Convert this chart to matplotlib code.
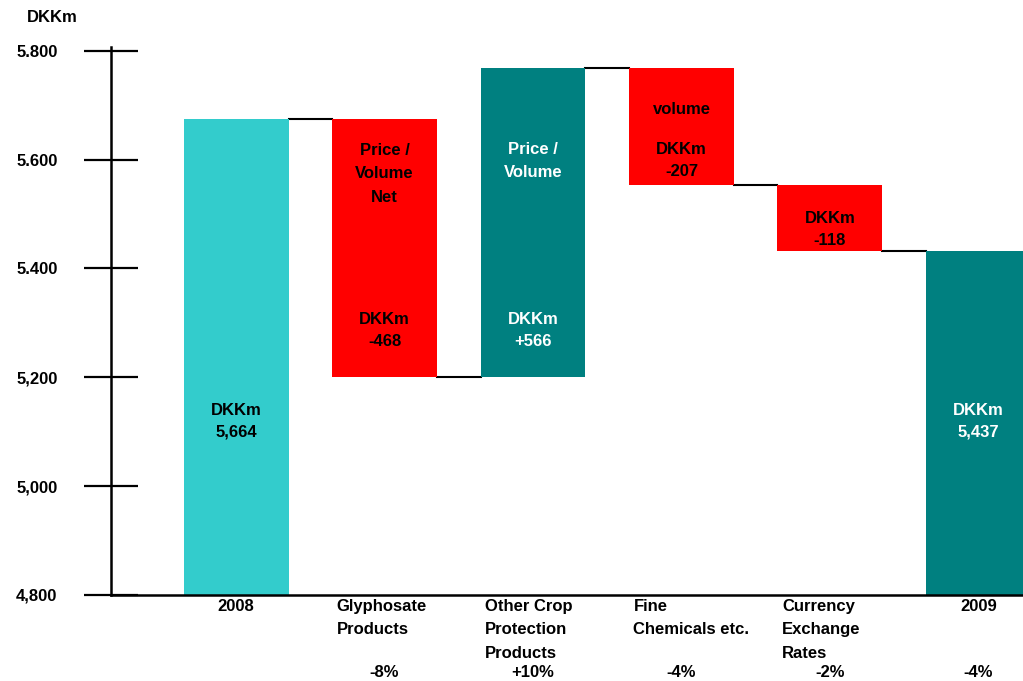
import numpy as np
import matplotlib.pyplot as plt

plt.rcParams['font.family'] = ['Liberation Sans', 'DejaVu Sans']
plt.rcParams['font.weight'] = 'bold'

categories = ['2008', 'Glyphosate\nProducts', 'Other Crop\nProtection\nProducts',
              'Fine\nChemicals etc.', 'Currency\nExchange\nRates', '2009']
pct_labels = ['', '-8%', '+10%', '-4%', '-2%', '-4%']
start_value = 5675
deltas = [-474, 568, -215, -122]
end_value = 5432
value_labels = ['DKKm\n5,664', 'DKKm\n-468', 'DKKm\n+566', 'DKKm\n-207', 'DKKm\n-118', 'DKKm\n5,437']
top_labels = ['', 'Price /\nVolume\nNet', 'Price /\nVolume', 'volume', '', '']
yticks = [4800, 5000, 5200, 5400, 5600, 5800]
ytick_labels = ['4,800', '5,000', '5,200', '5.400', '5.600', '5.800']

turq = '#33CCCC'
red = '#FF0000'
teal = '#008080'
FS = 12

# waterfall levels
levels = [start_value]
for d in deltas:
    levels.append(levels[-1] + d)
bottoms = [4800]
heights = [start_value - 4800]
colors = [turq]
for i, d in enumerate(deltas):
    lo = min(levels[i], levels[i + 1])
    bottoms.append(lo)
    heights.append(abs(d))
    colors.append(red if d < 0 else teal)
bottoms.append(4800)
heights.append(end_value - 4800)
colors.append(teal)
tops = levels + [end_value]

fig = plt.figure(figsize=(10.23, 6.81), dpi=100)
ax = fig.add_axes([0.1085, 0.1263, 0.8915, 0.8047])

x = np.arange(len(categories))
width = 0.707
ax.bar(x, heights, width, bottom=bottoms, color=colors, zorder=2)

# connector lines
for i in range(len(categories) - 1):
    ax.plot([x[i] + width / 2, x[i + 1] - width / 2], [tops[i], tops[i]],
            color='black', lw=1.5, zorder=1)

ax.set_xlim(-0.842, 5.3)
ax.set_ylim(4800, 5807)
ax.set_yticks(yticks)
ax.set_yticklabels(ytick_labels, fontsize=FS, fontweight='bold')
ax.tick_params(axis='y', direction='inout', length=39, width=1.6, pad=19)
ax.set_xticks([])
for s in ['top', 'right']:
    ax.spines[s].set_visible(False)
ax.spines['left'].set_linewidth(1.8)
ax.spines['bottom'].set_linewidth(1.8)

fig.text(52 / 1023, 1 - 18 / 681, 'DKKm', ha='center', va='center', fontsize=FS, fontweight='bold')

# category labels below axis
for i, c in enumerate(categories):
    if i in (0, len(categories) - 1):
        ax.text(x[i], 4793, c, ha='center', va='top', fontsize=FS, fontweight='bold',
                linespacing=1.7, clip_on=False)
    else:
        ax.text(x[i] - width / 2 + 0.03, 4793, c, ha='left', va='top', fontsize=FS,
                fontweight='bold', linespacing=1.7, clip_on=False)
    if pct_labels[i]:
        ax.text(x[i], 4657, pct_labels[i], ha='center', va='center', fontsize=FS,
                fontweight='bold', clip_on=False)

# labels inside bars
val_y = [5119, 5286, 5286, 5598, 5471, 5119]
top_y = [0, 5574, 5597, 5693, 0, 0]
txt_colors = ['black', 'black', 'white', 'black', 'black', 'white']
for i in range(len(categories)):
    ax.text(x[i], val_y[i], value_labels[i], ha='center', va='center', fontsize=FS,
            fontweight='bold', color=txt_colors[i], linespacing=1.6)
    if top_labels[i]:
        ax.text(x[i], top_y[i], top_labels[i], ha='center', va='center', fontsize=FS,
                fontweight='bold', color=txt_colors[i], linespacing=1.7)

fig.savefig('out.png', dpi=100)
